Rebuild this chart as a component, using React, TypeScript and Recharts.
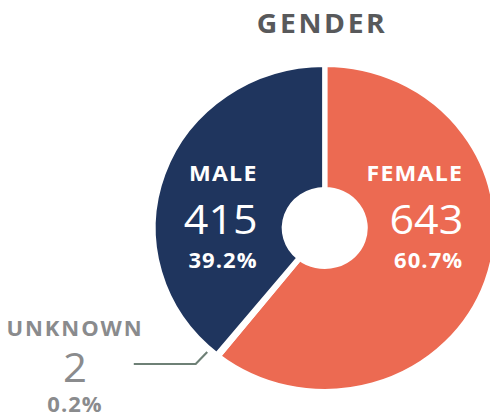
import React from 'react';
import { PieChart, Pie, Cell } from 'recharts';

const categories = ['Female', 'Unknown', 'Male'];
const displayNames = ['FEMALE', 'UNKNOWN', 'MALE'];
const counts = [643, 2, 415];
const sliceColors = ['#EC6A52', '#6E8076', '#1F355E'];
const title = 'GENDER';

const data = categories.map((name, i) => ({ name, label: displayNames[i], value: counts[i] }));

// label placement relative to the pie center (unscaled px)
const labelLayout: Record<string, { dx: number; anchor: 'start' | 'middle' | 'end'; dy: number[]; color: string }> = {
    Female: { dx: 132, anchor: 'end', dy: [-47, 6, 40], color: '#FFFFFF' },
    Male: { dx: -64, anchor: 'end', dy: [-47, 6, 40], color: '#FFFFFF' },
    Unknown: { dx: -238, anchor: 'middle', dy: [108, 154, 184], color: '#8A8B8D' },
};

const FONT = '"Open Sans", Lato, sans-serif';
const STRETCH = 490 / 467;

const renderLabel = (props: any) => {
    const { cx, cy, name, value, percent } = props;
    const l = labelLayout[name];
    if (!l) return null;
    const x = cx + l.dx;
    const pct = `${(percent * 100).toFixed(1)}%`;
    const unknown = name === 'Unknown';
    return (
        <g>
            {unknown && (
                <polyline
                    points={`${cx - 182},${cy + 136} ${cx - 123},${cy + 136} ${cx - 112},${cy + 124}`}
                    fill="none"
                    stroke="#6E8076"
                    strokeWidth={2}
                />
            )}
            <text x={x} y={cy + l.dy[0]} textAnchor={l.anchor} fill={l.color} fontFamily={FONT} fontWeight={700}
                fontSize={unknown ? 21 : 22} letterSpacing={unknown ? 1.8 : 1.2}>
                {displayNames[categories.indexOf(name)]}
            </text>
            <text x={x} y={cy + l.dy[1]} textAnchor={l.anchor} fill={l.color} fontFamily={FONT} fontWeight={400}
                fontSize={unknown ? 40 : 41}>
                {value}
            </text>
            <text x={x} y={cy + l.dy[2]} textAnchor={l.anchor} fill={l.color} fontFamily={FONT} fontWeight={700}
                fontSize={21} letterSpacing={1}>
                {pct}
            </text>
        </g>
    );
};

export default function App() {
    return (
        <div style={{ position: 'absolute', left: 0, top: 0, width: 467, height: 415, transform: `scaleX(${STRETCH})`, transformOrigin: '0 0', background: '#fff' }}>
            <PieChart width={467} height={415} margin={{ top: 0, right: 0, bottom: 0, left: 0 }}>
                <text x={307} y={33} textAnchor="middle" fill="#58595B" fontFamily={FONT} fontWeight={700} fontSize={27} letterSpacing={2.5}>
                    {title}
                </text>
                <Pie
                    data={data}
                    dataKey="value"
                    nameKey="name"
                    cx={309.5}
                    cy={228}
                    innerRadius={38.5}
                    outerRadius={163.5}
                    startAngle={90}
                    endAngle={-270}
                    stroke="#FFFFFF"
                    strokeWidth={5}
                    label={renderLabel}
                    labelLine={false}
                    isAnimationActive={false}
                >
                    {data.map((d, i) => (
                        <Cell key={d.name} fill={sliceColors[i]} />
                    ))}
                </Pie>
            </PieChart>
        </div>
    );
}
